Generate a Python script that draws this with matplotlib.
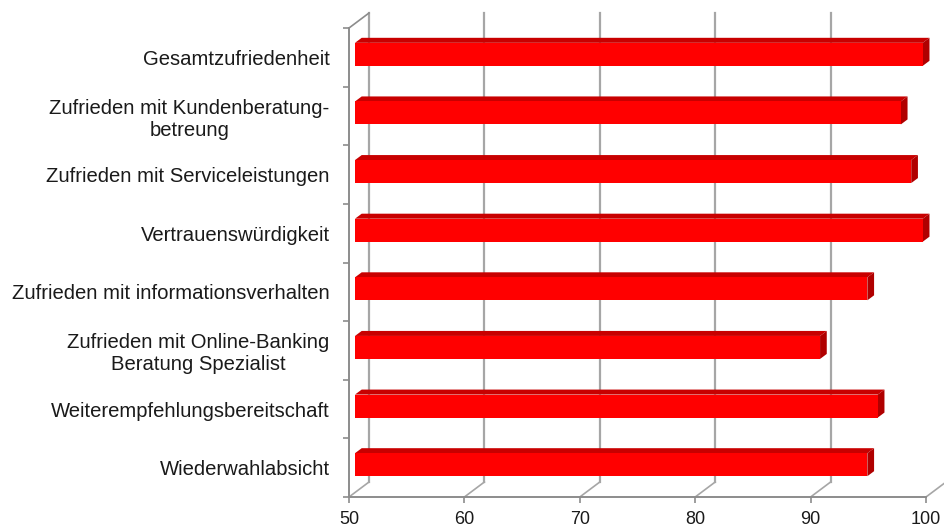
import matplotlib
matplotlib.use("Agg")
import matplotlib.pyplot as plt
from matplotlib.patches import Polygon
import numpy as np

categories = [
    "Gesamtzufriedenheit",
    "Zufrieden mit Kundenberatung-\nbetreung",
    "Zufrieden mit Serviceleistungen",
    "Vertrauenswürdigkeit",
    "Zufrieden mit informationsverhalten",
    "Zufrieden mit Online-Banking\nBeratung Spezialist",
    "Weiterempfehlungsbereitschaft",
    "Wiederwahlabsicht",
]
values = [99.2, 97.3, 98.2, 99.2, 94.4, 90.3, 95.3, 94.4]
x_ticks = [50, 60, 70, 80, 90, 100]

plt.rcParams['font.family'] = ['Liberation Sans', 'DejaVu Sans']

W, H = 944, 529
fig = plt.figure(figsize=(W / 100, H / 100), dpi=100)
# front plane in pixels
px_left, px_right, px_top, px_bottom = 349, 926, 28, 497
ax = fig.add_axes([px_left / W, 1 - px_bottom / H,
                   (px_right - px_left) / W, (px_bottom - px_top) / H])
n = len(categories)
ax.set_xlim(50, 100)
ax.set_ylim(n - 0.5, -0.5)
for s in ax.spines.values():
    s.set_visible(False)
ax.patch.set_visible(False)

kx = 50 / (px_right - px_left)        # data per pixel (x)
ky = n / (px_bottom - px_top)         # data per pixel (y)
DX, DY = 20, 15                        # depth offset in px (right, up)


def off(x, y, fx, fy):
    # shift data point by pixel offset (fx right, fy up)
    return (x + fx * kx, y - fy * ky)


grid_c = '#a6a6a6'
axis_c = '#8c8c8c'
ymin, ymax = n - 0.5, -0.5  # bottom, top

# back wall gridlines
for v in x_ticks:
    p0 = off(v, ymin, DX, DY)
    p1 = off(v, ymax, DX, DY)
    ax.plot([p0[0], p1[0]], [p0[1], p1[1]], color=grid_c, lw=1.6,
            clip_on=False, zorder=1)
    # floor diagonals
    ax.plot([v, p0[0]], [ymin, p0[1]], color=grid_c, lw=1.2,
            clip_on=False, zorder=1)
# left wall top diagonal
pt = off(50, ymax, DX, DY)
ax.plot([50, pt[0]], [ymax, pt[1]], color=axis_c, lw=1.2, clip_on=False, zorder=1)

# front axes lines
ax.plot([50, 50], [ymin, ymax], color=axis_c, lw=1.4, clip_on=False, zorder=2)
ax.plot([50, 100], [ymin, ymin], color=axis_c, lw=1.4, clip_on=False, zorder=2)

# bars (pseudo-3D)
bh = 23 * ky
y_pos = np.arange(n)
fx1, fy1 = 6, 3          # front face offset (px)
fx2, fy2 = 12.7, 8       # back face offset (px)
for yi, v in zip(y_pos, values):
    y0, y1 = yi - fy1 * ky - bh / 2, yi - fy1 * ky + bh / 2
    top = [(50 + fx1 * kx, y0), (v + fx1 * kx, y0),
           off(v + fx1 * kx, y0, fx2 - fx1, fy2 - fy1),
           off(50 + fx1 * kx, y0, fx2 - fx1, fy2 - fy1)]
    ax.add_patch(Polygon(top, closed=True, facecolor='#c80000',
                         edgecolor='none', zorder=3, clip_on=False))
    side = [(v + fx1 * kx, y0), (v + fx1 * kx, y1),
            off(v + fx1 * kx, y1, fx2 - fx1, fy2 - fy1),
            off(v + fx1 * kx, y0, fx2 - fx1, fy2 - fy1)]
    ax.add_patch(Polygon(side, closed=True, facecolor='#b00000',
                         edgecolor='none', zorder=3, clip_on=False))

fronts = ax.barh(y_pos - fy1 * ky, [v - 50 for v in values], left=50 + fx1 * kx,
                 height=bh, color='#ff0000', edgecolor='none', zorder=4)
for b in fronts:
    b.set_clip_on(False)

# ticks
ax.set_xticks(x_ticks)
ax.set_xticklabels([str(t) for t in x_ticks], fontsize=13, color='#1a1a1a')
ax.tick_params(axis='x', length=4, width=1.2, color=axis_c, pad=6)
ax.set_yticks(np.arange(-0.5, n, 1.0))
ax.set_yticklabels([])
ax.tick_params(axis='y', which='major', length=4, width=1.2, color=axis_c)
ax.set_yticks(y_pos, minor=True)
ax.set_yticklabels(categories, minor=True, fontsize=14.6, color='#1a1a1a')
ax.tick_params(axis='y', which='minor', length=0, pad=14)
for lbl in ax.get_yticklabels(minor=True):
    lbl.set_multialignment('center')
    lbl.set_linespacing(1.2)

fig.savefig('out.png', dpi=100, facecolor='white')
